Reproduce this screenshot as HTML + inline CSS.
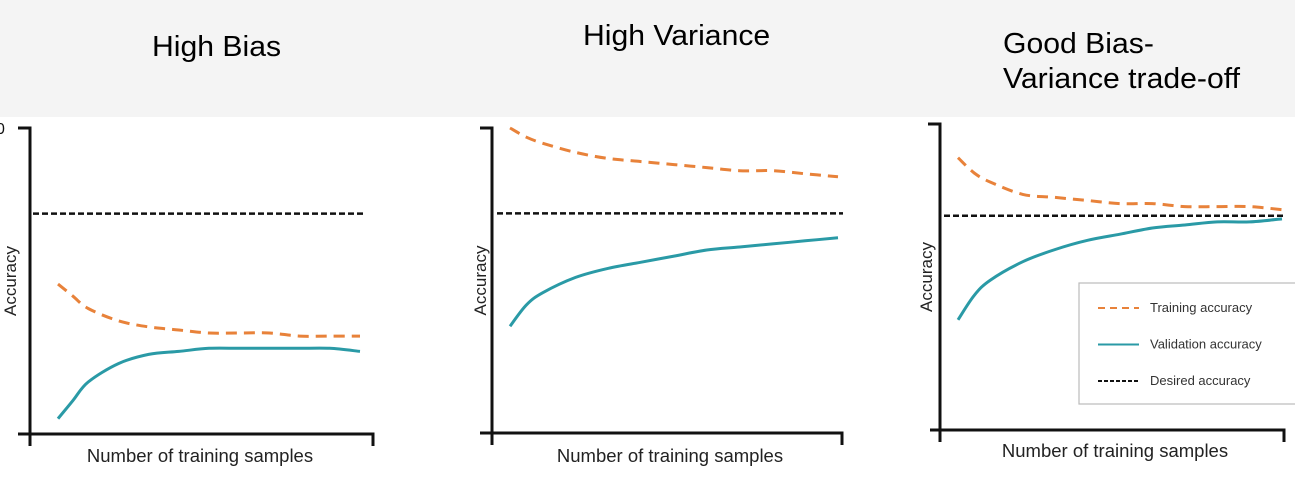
<!DOCTYPE html>
<html><head><meta charset="utf-8"><style>
body{margin:0;width:1295px;height:479px;background:#fff;overflow:hidden;font-family:"Liberation Sans",sans-serif;}
#hdr{position:absolute;left:0;top:0;width:1295px;height:117px;background:#f4f4f4;}
.t{position:absolute;font-size:29px;color:#000;line-height:35px;white-space:nowrap;}
svg{position:absolute;left:0;top:0;}
</style></head><body>
<div id="hdr"></div>
<div class="t" style="left:152px;top:30px;transform-origin:left;transform:scaleX(1.04)">High Bias</div>
<div class="t" style="left:583px;top:19px;transform-origin:left;transform:scaleX(1.04)">High Variance</div>
<div class="t" style="left:1003px;top:27px;transform-origin:left;transform:scaleX(1.04)">Good Bias-<br>Variance trade-off</div>
<svg id="c" width="1295" height="479"></svg>
<script>
const xs=[0,0.05,0.1,0.2,0.3,0.4,0.5,0.6,0.7,0.8,0.9,1.0];
const train1=[0.49,0.45,0.41,0.37,0.35,0.34,0.33,0.33,0.33,0.32,0.32,0.32];
const val1=[0.05,0.11,0.17,0.23,0.26,0.27,0.28,0.28,0.28,0.28,0.28,0.27];
const desired1=0.72;
const train2=[1.0,0.97,0.95,0.92,0.90,0.89,0.88,0.87,0.86,0.86,0.85,0.84];
const val2=[0.35,0.42,0.46,0.51,0.54,0.56,0.58,0.60,0.61,0.62,0.63,0.64];
const desired2=0.72;
const train3=[0.89,0.84,0.81,0.77,0.76,0.75,0.74,0.74,0.73,0.73,0.73,0.72];
const val3=[0.36,0.44,0.49,0.55,0.59,0.62,0.64,0.66,0.67,0.68,0.68,0.69];
const desired3=0.70;
const legendLabels=["Training accuracy","Validation accuracy","Desired accuracy"];

const NS="http://www.w3.org/2000/svg";
const svg=document.getElementById('c');
function mk(t,a,p){const e=document.createElementNS(NS,t);for(const k in a)e.setAttribute(k,a[k]);(p||svg).appendChild(e);return e;}
function smooth(P){let d=`M${P[0][0]},${P[0][1]}`;for(let i=0;i<P.length-1;i++){const p0=P[i-1]||P[i],p1=P[i],p2=P[i+1],p3=P[i+2]||p2;
 const c1=[p1[0]+(p2[0]-p0[0])/6,p1[1]+(p2[1]-p0[1])/6],c2=[p2[0]-(p3[0]-p1[0])/6,p2[1]-(p3[1]-p1[1])/6];
 d+=` C${c1[0].toFixed(1)},${c1[1].toFixed(1)} ${c2[0].toFixed(1)},${c2[1].toFixed(1)} ${p2[0].toFixed(1)},${p2[1].toFixed(1)}`;}return d;}
const ORANGE="#e8823a",TEAL="#2a9aa6";
const panels=[
 {ax:30,top:128,bot:434,xl:18,xr:373,x0:58,x1:360,dl:33,dr:366,tr:train1,va:val1,de:desired1,lab:200,laby:462,acc:10,zero:true},
 {ax:492,top:128,bot:433,xl:480,xr:842,x0:510,x1:838,dl:497,dr:843,tr:train2,va:val2,de:desired2,lab:670,laby:462,acc:480},
 {ax:940,top:124,bot:430,xl:930,xr:1284,x0:958,x1:1282,dl:944,dr:1284,tr:train3,va:val3,de:desired3,lab:1115,laby:457,acc:926}
];
panels.forEach((p,i)=>{
 const g=mk('g',{});
 
 
 const X=v=>p.x0+v*(p.x1-p.x0);
 const Y=v=>p.bot-v*(p.bot-p.top);
 const ya=mk('path',{d:`M${p.ax-12} ${p.top}H${p.ax}V${p.bot+12}`,stroke:'#111',fill:'none','stroke-width':3},g);
 
 const xa=mk('path',{d:`M${p.xl} ${p.bot}H${p.xr}V${p.bot+12}`,stroke:'#111',fill:'none','stroke-width':3},g);
 
 const d=mk('line',{x1:p.dl,x2:p.dr,y1:Y(p.de),y2:Y(p.de),stroke:'#111','stroke-width':2.5,'stroke-dasharray':'6 3'},g);
 
 const pts=a=>a.map((v,j)=>[X(xs[j]),Y(v)]);
 const t=mk('path',{d:smooth(pts(p.tr)),fill:'none',stroke:ORANGE,'stroke-width':3,'stroke-dasharray':'11 7'},g);
 
 const v=mk('path',{d:smooth(pts(p.va)),fill:'none',stroke:TEAL,'stroke-width':3},g);
 
 const xt=mk('text',{x:p.lab,y:p.laby,'text-anchor':'middle','font-size':18.5,fill:'#222','font-family':'Liberation Sans, sans-serif'},g);
 xt.textContent='Number of training samples';
 
 const cy=(p.top+p.bot)/2;
 const yt=mk('text',{x:p.acc+6,y:cy,'text-anchor':'middle','font-size':17,fill:'#222',transform:`rotate(-90 ${p.acc+6} ${cy})`,'font-family':'Liberation Sans, sans-serif'},g);
 yt.textContent='Accuracy';
 
 if(p.zero){const z=mk('text',{x:-4,y:p.top+6,'font-size':16,fill:'#111'},g);z.textContent='0';
  }
});
const lg=mk('g',{});


mk('rect',{x:1079,y:283,width:230,height:121,fill:'#fff',stroke:'#bbb','stroke-width':1.2},lg);
const styles=[{s:ORANGE,da:'7 5'},{s:TEAL,da:''},{s:'#111',da:'4 2'}];
legendLabels.forEach((l,i)=>{
 const y=308+i*36.5;
 const e=mk('g',{},lg);
 
 
 mk('line',{x1:1098,x2:1139,y1:y,y2:y,stroke:styles[i].s,'stroke-width':2,'stroke-dasharray':styles[i].da},e);
 const tx=mk('text',{x:1150,y:y+4,'font-size':13,fill:'#333'},e);tx.textContent=l;
});
</script>
</body></html>
